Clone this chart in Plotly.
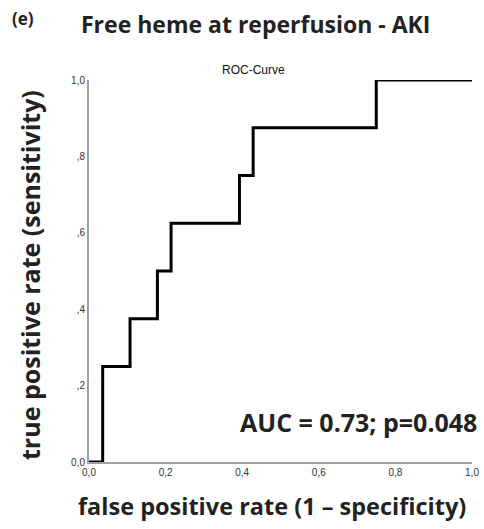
import plotly.graph_objects as go

fpr = [0, 1/28, 3/28, 5/28, 6/28, 11/28, 12/28, 21/28, 1.0]
tpr = [0, 0.25, 0.375, 0.5, 0.625, 0.75, 0.875, 1.0, 1.0]
ytick_vals = [0, 0.2, 0.4, 0.6, 0.8, 1.0]
ytick_text = ["0,0", ",2", ",4", ",6", ",8", "1,0"]
xtick_vals = [0, 0.2, 0.4, 0.6, 0.8, 1.0]
xtick_text = ["0,0", "0,2", "0,4", "0,6", "0,8", "1,0"]

W, H = 484, 529
px_left, px_right, px_top, px_bot = 89, 472, 80, 462
L, R, T, B = px_left, W - px_right, px_top, H - px_bot
PW, PH = px_right - px_left, px_bot - px_top


def ax(xpx):
    return (xpx - px_left) / PW


def ay(ypx):
    return (px_bot - ypx) / PH


fig = go.Figure()
fig.add_trace(go.Scatter(x=fpr, y=tpr, mode="lines", line=dict(color="black", width=3, shape="hv"),
                         showlegend=False, hoverinfo="skip", cliponaxis=False))

tickfont = dict(family="Liberation Sans, Arial", size=10, color="#333")
fig.update_layout(
    width=W, height=H,
    margin=dict(l=L, r=R, t=T, b=B),
    plot_bgcolor="white", paper_bgcolor="white",
    xaxis=dict(range=[0, 1], tickvals=xtick_vals, ticktext=xtick_text, showgrid=False, zeroline=False,
               showline=True, linecolor="#a0a0a0", linewidth=2, ticks="", ticklen=0,
               tickfont=tickfont, automargin=False, ticklabeloverflow="allow"),
    yaxis=dict(range=[0, 1], tickvals=ytick_vals, ticktext=ytick_text, showgrid=False, zeroline=False,
               showline=True, linecolor="#a0a0a0", linewidth=2, ticks="", ticklen=0,
               tickfont=tickfont, automargin=False, ticklabeloverflow="allow"),
    annotations=[
        dict(text="<b>(e)</b>", xref="paper", yref="paper", x=ax(10), y=ay(18),
             showarrow=False, xanchor="left", yanchor="middle",
             font=dict(family="Open Sans", size=17, color="#222")),
        dict(text="<b>Free heme at reperfusion - AKI</b>", xref="paper", yref="paper",
             x=ax(79), y=ay(24), showarrow=False, xanchor="left", yanchor="middle",
             font=dict(family="Open Sans", size=23, color="#222")),
        dict(text="ROC-Curve", xref="paper", yref="paper", x=ax(253), y=ay(70),
             showarrow=False, xanchor="center", yanchor="middle",
             font=dict(family="Liberation Sans, Arial", size=12, color="#111")),
        dict(text="<b>true positive rate (sensitivity)</b>", xref="paper", yref="paper",
             x=ax(30), y=ay(275), showarrow=False, textangle=-90, xanchor="center", yanchor="middle",
             font=dict(family="Open Sans", size=25, color="#222")),
        dict(text="<b>false positive rate (1 – specificity)</b>", xref="paper", yref="paper",
             x=ax(272), y=ay(506), showarrow=False, xanchor="center", yanchor="middle",
             font=dict(family="Open Sans", size=23.5, color="#222")),
        dict(text="<b>AUC = 0.73; p=0.048</b>", xref="paper", yref="paper",
             x=ax(479), y=ay(422), showarrow=False, xanchor="right", yanchor="middle",
             font=dict(family="Open Sans", size=25, color="#222")),
    ],
)

fig.write_html(
    "out.html",
    config={"displayModeBar": False},
    post_script="document.documentElement.style.overflow='hidden';"
                "document.body.style.margin='0';document.body.style.overflow='hidden';",
)
